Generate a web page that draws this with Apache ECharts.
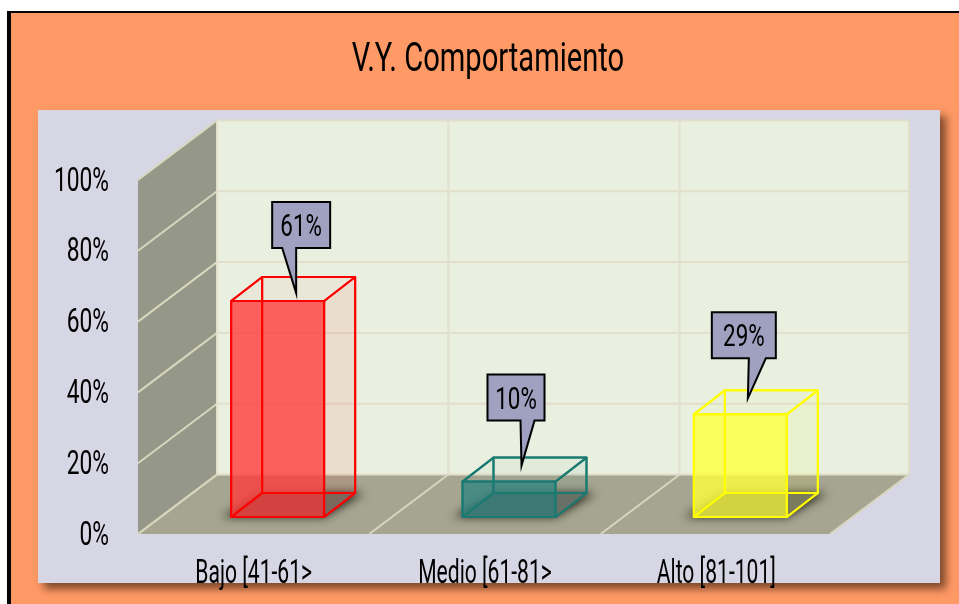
<!DOCTYPE html>
<html>
<head>
<meta charset="utf-8">
<title>V.Y. Comportamiento</title>
<script src="https://cdn.jsdelivr.net/npm/echarts@6/dist/echarts.min.js"></script>
<style>
html, body { margin: 0; padding: 0; background: #fff; }
#chart { width: 959px; height: 604px; }
</style>
</head>
<body>
<div id="chart"></div>
<script>
const titleText = 'V.Y. Comportamiento'
const categories = ['Bajo [41-61>', 'Medio [61-81>', 'Alto [81-101]']
const percentValues = [61, 10, 29]
const yTicks = [0, 20, 40, 60, 80, 100]

const edgeColors = ['#FF0000', '#1A7A72', '#FFFF00']
const frontColors = ['rgba(255,60,60,0.8)', 'rgba(51,134,129,0.8)', 'rgba(255,255,60,0.8)']
const sideColors = ['rgba(255,0,0,0.08)', 'rgba(26,122,114,0.08)', 'rgba(255,255,0,0.08)']
const topColors = ['rgba(255,0,0,0.03)', 'rgba(26,122,114,0.04)', 'rgba(255,255,0,0.03)']

const FONT = 'Roboto, sans-serif'
const NARROW = 0.62
// fake 3d offsets, in pixels
const WALL_DX = 79, WALL_DY = -59.5
const RIGHT_TRIM = 2
const INSET_DX = 24, INSET_DY = -17
const BAR_DX = 31, BAR_DY = -24
const BAR_WIDTH = 93
// the shadow caster sits off the canvas so only its blur lands on the floor
const SHADOW_SHIFT = 3000
// callout box and tip, relative to the middle of the top of the bar
const callouts = [
  { left: -21, right: 37, top: -87, bottom: -41, baseL: -11, baseR: 3, tipX: 3, tipY: 4 },
  { left: -37, right: 20, top: -95, bottom: -49, baseL: -4, baseR: 10, tipX: -3, tipY: -4 },
  { left: -44, right: 20, top: -90, bottom: -44, baseL: -7, baseR: 10, tipX: -8, tipY: -4 }
]

function poly(points, style) {
  return { type: 'polygon', shape: { points: points }, style: style }
}

function line(x1, y1, x2, y2, stroke) {
  return { type: 'line', shape: { x1: x1, y1: y1, x2: x2, y2: y2 }, style: { stroke: stroke, lineWidth: 2 } }
}

function narrowText(text, x, y, size, align, scale) {
  return {
    type: 'text',
    x: x,
    y: y,
    scaleX: scale,
    style: { text: text, fill: '#000', font: size + 'px ' + FONT, align: align, verticalAlign: 'middle' }
  }
}

function renderWalls(params) {
  const c = params.coordSys
  const l = c.x, r = c.x + c.width - RIGHT_TRIM, t = c.y, b = c.y + c.height
  return {
    type: 'group',
    children: [
      poly([[l + WALL_DX, t + WALL_DY], [r + WALL_DX, t + WALL_DY], [r + WALL_DX, b + WALL_DY], [l + WALL_DX, b + WALL_DY]], { fill: '#E9F0DF' }),
      poly([[l, t], [l + WALL_DX, t + WALL_DY], [l + WALL_DX, b + WALL_DY], [l, b]], { fill: '#959888' }),
      poly([[l, b], [l + WALL_DX, b + WALL_DY], [r + WALL_DX, b + WALL_DY], [r, b]], { fill: '#A6A591' })
    ]
  }
}

function renderTickLine(params, api) {
  const c = params.coordSys
  const y = api.coord([0, api.value(0)])[1]
  const r = c.x + c.width - RIGHT_TRIM
  return {
    type: 'group',
    children: [
      line(c.x, y, c.x + WALL_DX, y + WALL_DY, '#D8D7BE'),
      line(c.x + WALL_DX, y + WALL_DY, r + WALL_DX, y + WALL_DY, '#E2DFCB')
    ]
  }
}

function renderBandLine(params, api) {
  const c = params.coordSys
  const i = api.value(0)
  const band = api.size([1, 0])[0]
  const x = api.coord([i, 0])[0] - band / 2
  const y = c.y + c.height
  const children = [
    line(x + WALL_DX, c.y + WALL_DY, x + WALL_DX, y + WALL_DY, '#E2DFCB'),
    line(x, y, x + WALL_DX, y + WALL_DY, '#D8D7BE')
  ]
  if (i === categories.length - 1) {
    const xr = c.x + c.width - RIGHT_TRIM
    children.push(line(xr + WALL_DX, c.y + WALL_DY, xr + WALL_DX, y + WALL_DY, '#E2DFCB'))
    children.push(line(xr, y, xr + WALL_DX, y + WALL_DY, '#D8D7BE'))
  }
  return { type: 'group', children: children }
}

function renderBar(params, api) {
  const i = api.value(0)
  const base = api.coord([i, 0])
  const top = api.coord([i, api.value(1)])
  const x0 = base[0] + INSET_DX - BAR_WIDTH / 2
  const x1 = x0 + BAR_WIDTH
  const y0 = base[1] + INSET_DY
  const y1 = top[1] + INSET_DY
  const dx = BAR_DX, dy = BAR_DY
  const edge = { fill: 'none', stroke: edgeColors[i], lineWidth: 2, lineJoin: 'round' }
  const floorFace = [[x0, y0], [x1, y0], [x1 + dx, y0 + dy], [x0 + dx, y0 + dy]]
  const shadowFace = [[x0 - 9, y0], [x1, y0], [x1 + dx + 9, y0 + dy], [x0 + dx, y0 + dy]]
    .map(p => [p[0] - SHADOW_SHIFT, p[1]])
  const backFace = [[x0 + dx, y1 + dy], [x1 + dx, y1 + dy], [x1 + dx, y0 + dy], [x0 + dx, y0 + dy]]
  const leftFace = [[x0, y1], [x0 + dx, y1 + dy], [x0 + dx, y0 + dy], [x0, y0]]
  const topFace = [[x0, y1], [x1, y1], [x1 + dx, y1 + dy], [x0 + dx, y1 + dy]]
  const sideFace = [[x1, y1], [x1 + dx, y1 + dy], [x1 + dx, y0 + dy], [x1, y0]]
  const frontFace = [[x0, y1], [x1, y1], [x1, y0], [x0, y0]]
  return {
    type: 'group',
    children: [
      // shadow on the floor
      poly(shadowFace, { fill: '#000', shadowBlur: 10, shadowOffsetX: SHADOW_SHIFT, shadowColor: 'rgba(30,30,20,0.95)' }),
      poly(floorFace, { fill: '#7A7A6E' }),
      poly(topFace, { fill: topColors[i] }),
      poly(sideFace, { fill: sideColors[i] }),
      poly(frontFace, { fill: frontColors[i] }),
      poly(floorFace, { fill: 'rgba(0,0,0,0.07)' }),
      // wireframe on top of the faces
      poly(backFace, edge),
      poly(floorFace, edge),
      poly(leftFace, edge),
      poly(topFace, edge),
      poly(sideFace, edge),
      poly(frontFace, edge)
    ]
  }
}

function renderCallout(params, api) {
  const i = api.value(0)
  const base = api.coord([i, 0])
  const top = api.coord([i, api.value(1)])
  const cx = base[0] + INSET_DX + BAR_DX / 2
  const cy = top[1] + INSET_DY + BAR_DY / 2
  const k = callouts[i]
  const points = [
    [cx + k.left, cy + k.top], [cx + k.right, cy + k.top], [cx + k.right, cy + k.bottom],
    [cx + k.baseR, cy + k.bottom], [cx + k.tipX, cy + k.tipY], [cx + k.baseL, cy + k.bottom],
    [cx + k.left, cy + k.bottom]
  ]
  return {
    type: 'group',
    children: [
      poly(points, { fill: '#A0A0C0', stroke: '#000', lineWidth: 2, lineJoin: 'miter' }),
      narrowText(api.value(1) + '%', cx + (k.left + k.right) / 2, cy + (k.top + k.bottom) / 2 + 3, 32, 'center', 0.7)
    ]
  }
}

function renderYLabel(params, api) {
  const v = api.value(0)
  return narrowText(v + '%', params.coordSys.x - 29, api.coord([0, v])[1] + 2, 34, 'right', 0.67)
}

function renderXLabel(params, api) {
  const i = api.value(0)
  const c = params.coordSys
  return narrowText(categories[i], api.coord([i, 0])[0], c.y + c.height + 40, 34, 'center', NARROW)
}

const chart = echarts.init(document.getElementById('chart'))
const barData = categories.map((c, i) => [i, percentValues[i]])
const option = {
  animation: false,
  backgroundColor: '#fff',
  grid: { left: 138, top: 180, width: 694, height: 354 },
  xAxis: {
    type: 'category',
    data: categories,
    axisLine: { show: false },
    axisTick: { show: false },
    axisLabel: { show: false }
  },
  yAxis: {
    type: 'value',
    min: 0,
    max: 100,
    interval: 20,
    splitLine: { show: false },
    axisLine: { show: false },
    axisTick: { show: false },
    axisLabel: { show: false }
  },
  graphic: [
    { type: 'rect', z: -10, shape: { x: 7, y: 11, width: 960, height: 600 }, style: { fill: '#000' } },
    { type: 'rect', z: -9, shape: { x: 11, y: 13, width: 960, height: 600 }, style: { fill: '#FF9966' } },
    {
      type: 'rect', z: -8, shape: { x: 38, y: 110, width: 902, height: 473 },
      style: { fill: '#D6D6E4', shadowBlur: 8, shadowOffsetX: 6, shadowOffsetY: 6, shadowColor: 'rgba(60,30,10,0.65)' }
    },
    {
      type: 'text', z: -7, x: 488, y: 61, scaleX: 0.71,
      style: { text: titleText, fill: '#000', font: '41px ' + FONT, align: 'center', verticalAlign: 'middle' }
    }
  ],
  series: [
    { type: 'custom', z: 1, silent: true, renderItem: renderWalls, data: [[0, 0]], encode: { x: 0, y: 1 } },
    { type: 'custom', z: 2, silent: true, renderItem: renderTickLine, data: yTicks.map(t => [t]), encode: { y: 0 } },
    { type: 'custom', z: 2, silent: true, renderItem: renderBandLine, data: barData, encode: { x: 0, y: 1 } },
    { type: 'custom', z: 3, silent: true, renderItem: renderBar, data: barData, encode: { x: 0, y: 1 } },
    { type: 'custom', z: 4, silent: true, renderItem: renderCallout, data: barData, encode: { x: 0, y: 1 } },
    { type: 'custom', z: 5, silent: true, renderItem: renderYLabel, data: yTicks.map(t => [t]), encode: { y: 0 } },
    { type: 'custom', z: 5, silent: true, renderItem: renderXLabel, data: barData, encode: { x: 0, y: 1 } }
  ]
}
chart.setOption(option)
</script>
</body>
</html>
